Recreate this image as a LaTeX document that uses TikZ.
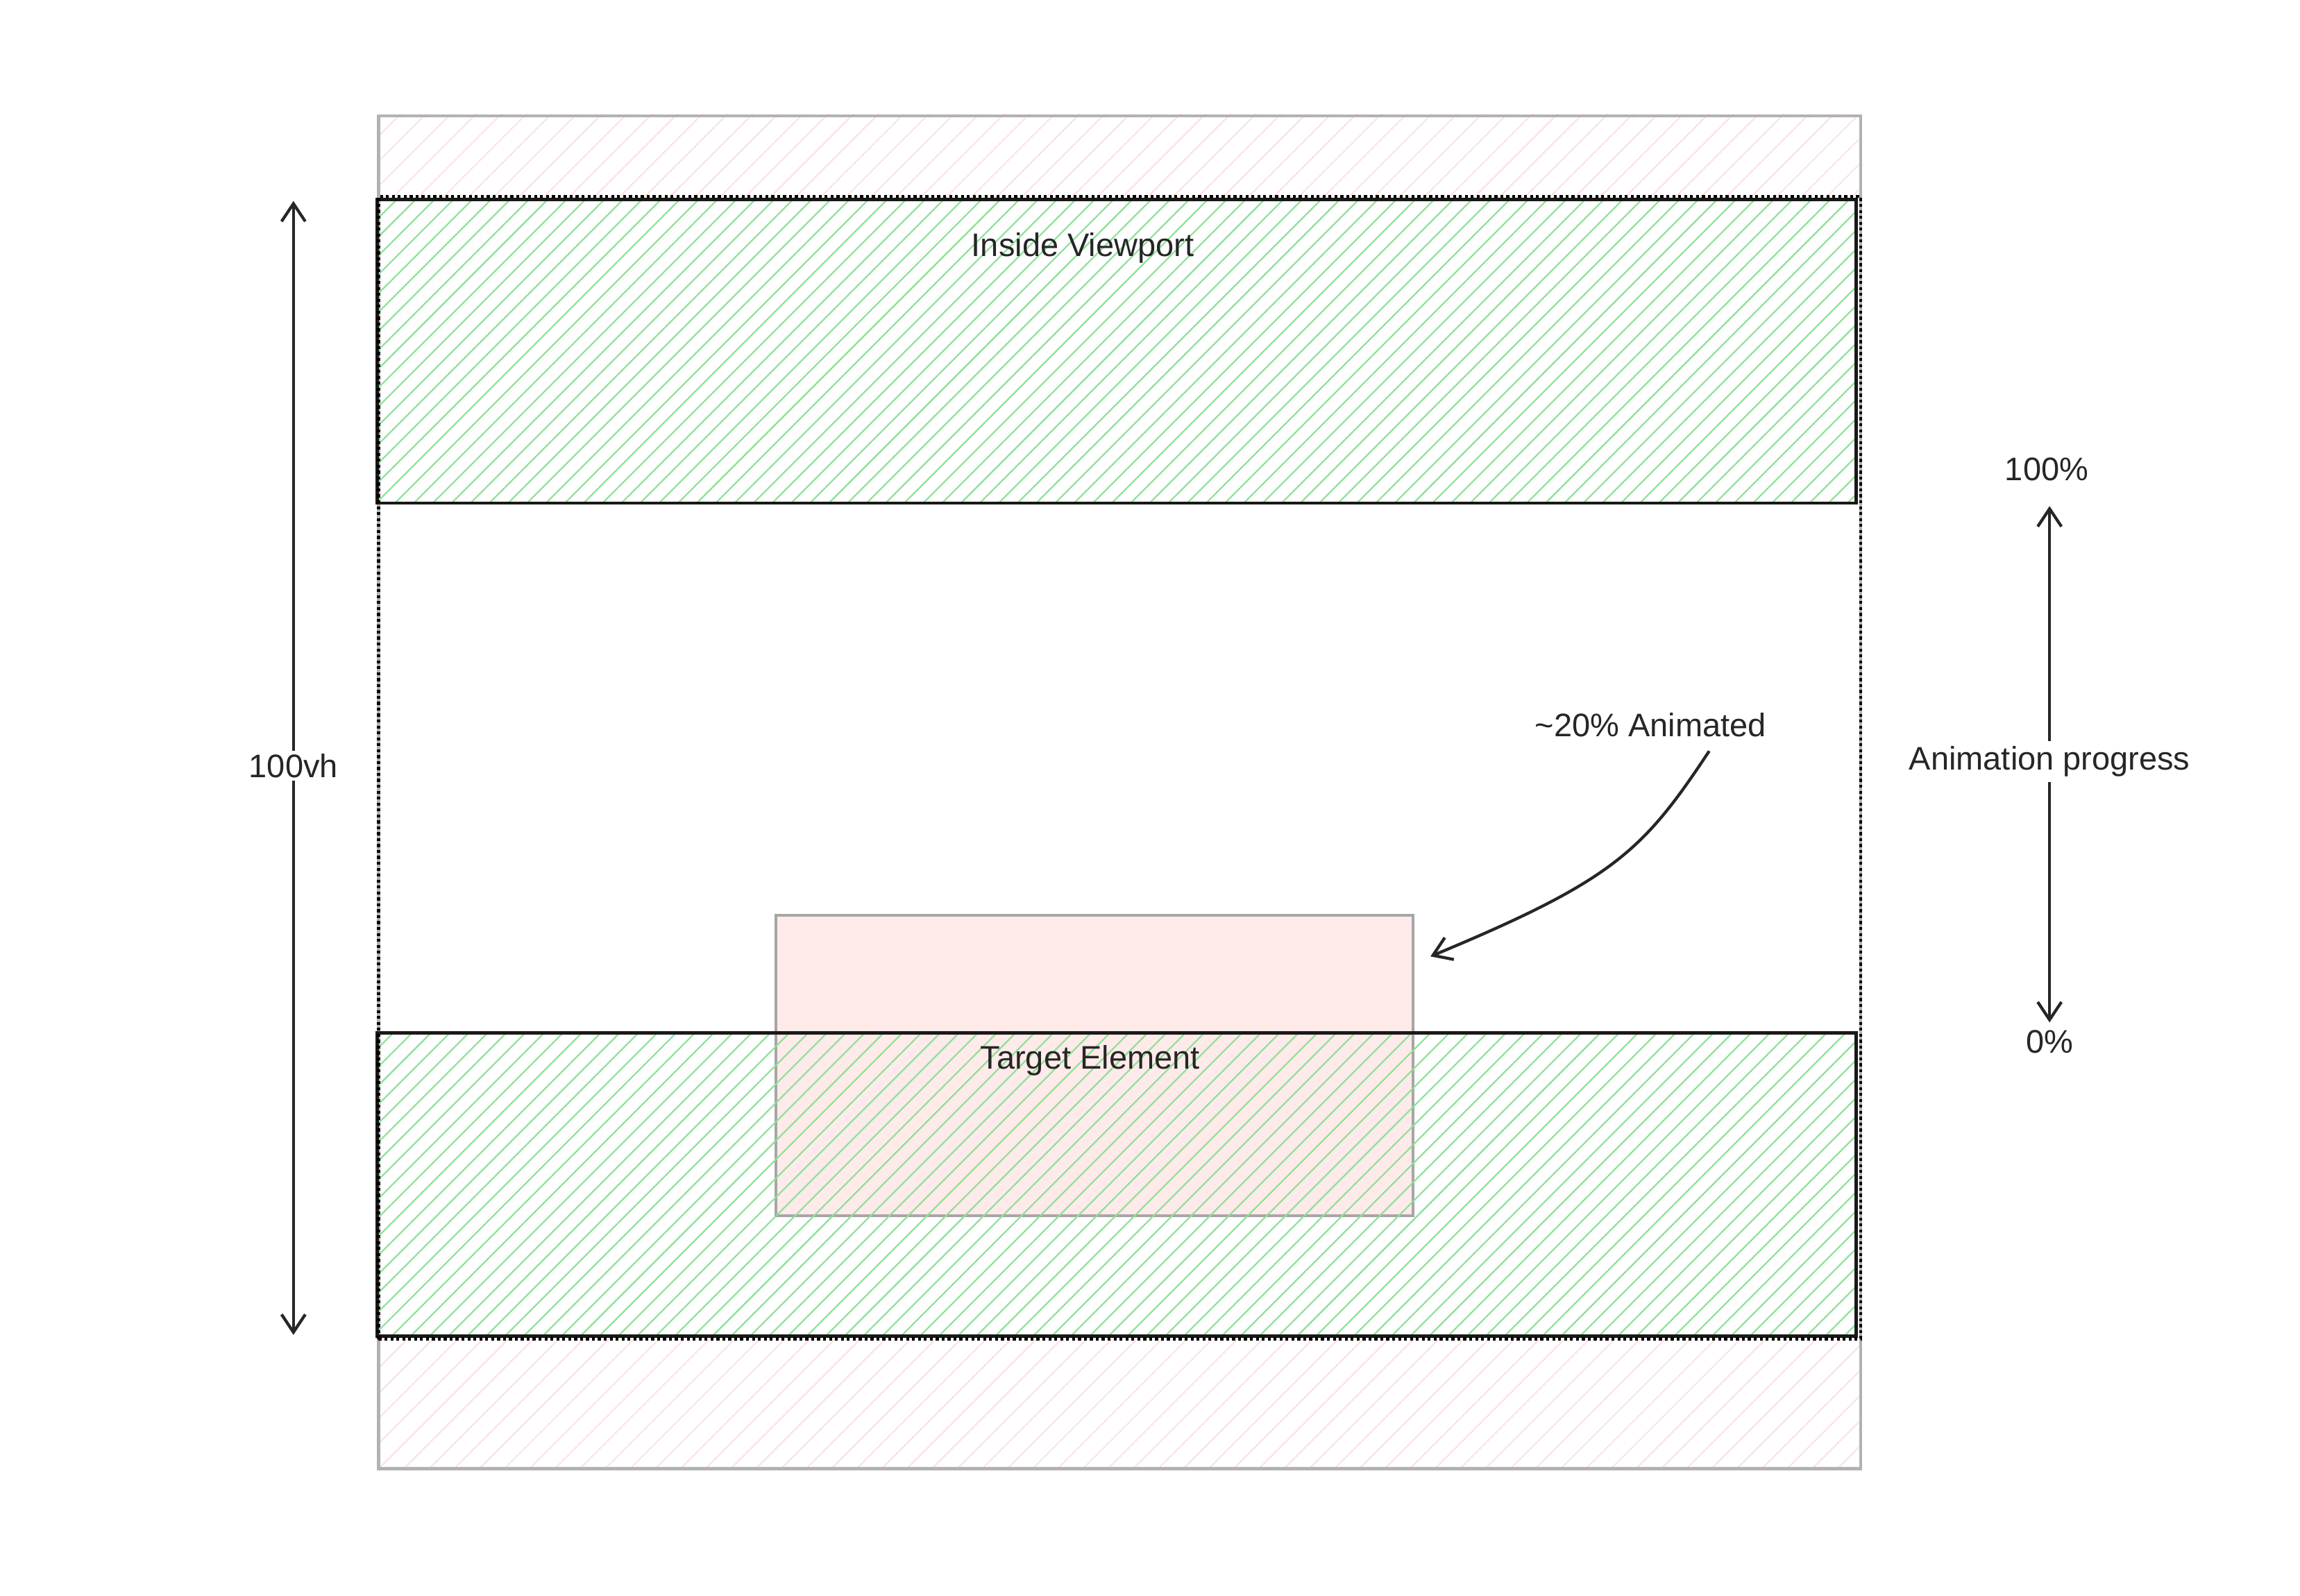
\documentclass[tikz,border=0pt]{standalone}
\usepackage{fontspec}
\setmainfont{Liberation Sans}
\usetikzlibrary{patterns.meta,arrows.meta}
\definecolor{hgreen}{RGB}{140,225,150}
\definecolor{hpink}{RGB}{252,222,222}
\definecolor{pinkfill}{RGB}{255,234,234}
\tikzset{
  lbl/.style={font=\fontsize{22}{26}\selectfont, text=black!85},
  gband/.style={draw=black!90, line width=2.2pt, pattern={Lines[angle=45,distance=9pt,line width=1pt]}, pattern color=hgreen},
  arr/.style={draw=black!85, line width=2pt, -{Straight Barb[length=12pt,width=16pt]}}
}
\begin{document}
\begin{tikzpicture}[x=0.99pt,y=-0.99pt]
\useasboundingbox (0,0) rectangle (1567.7,1087.9);
\fill[white] (0,0) rectangle (1567.7,1087.9);
% outer hatch strips
\path[pattern={Lines[angle=45,distance=12pt,line width=0.8pt]}, pattern color=hpink] (257,78) rectangle (1267,136);
\path[pattern={Lines[angle=45,distance=12pt,line width=0.8pt]}, pattern color=hpink] (257,911) rectangle (1267,1000);
\node[draw=black!30, line width=2pt, minimum width=1000pt, minimum height=913pt, anchor=north west, inner sep=0] (outer) at (257,78) {};
% target
\node[draw=black!35, line width=1.8pt, fill=pinkfill, minimum width=430pt, minimum height=203pt, anchor=north west, inner sep=0] (target) at (528,623) {};
% bands
\path[gband] (257,136) rectangle (1265,343);
\node[lbl] (inside) at (738,169) {Inside Viewport};
\path[gband] (257,704) rectangle (1265,911);
\node[lbl] (tlabel) at (743,723) {Target Element};
% dotted viewport
\node[draw=black, line width=2pt, dotted, minimum width=1000pt, minimum height=771pt, anchor=north west, inner sep=0] (vp) at (257,133) {};
% left arrow
\coordinate (lt) at (200,137); \coordinate (lb) at (200,910);
\node[lbl, fill=white, inner sep=2pt] (vh) at (200,522) {100vh};
\draw[arr] (vh.north) -- (lt);
\draw[arr] (vh.south) -- (lb);
% right
\node[lbl] (p100) at (1395,320) {100\%};
\node[lbl] (p0) at (1397,710) {0\%};
\node[lbl] (prog) at (1397,519) {Animation progress};
\coordinate (pt) at (1397,345); \coordinate (pb) at (1397,697);
\draw[arr] (prog.north) -- (pt);
\draw[arr] (prog.south) -- (pb);
% annotation
\node[lbl] (anim) at (1125,494) {\textasciitilde20\% Animated};
\coordinate (ae) at (975,652);
\draw[arr] (1165,512) .. controls (1120,580) and (1100,600) .. (ae);
\end{tikzpicture}
\end{document}
